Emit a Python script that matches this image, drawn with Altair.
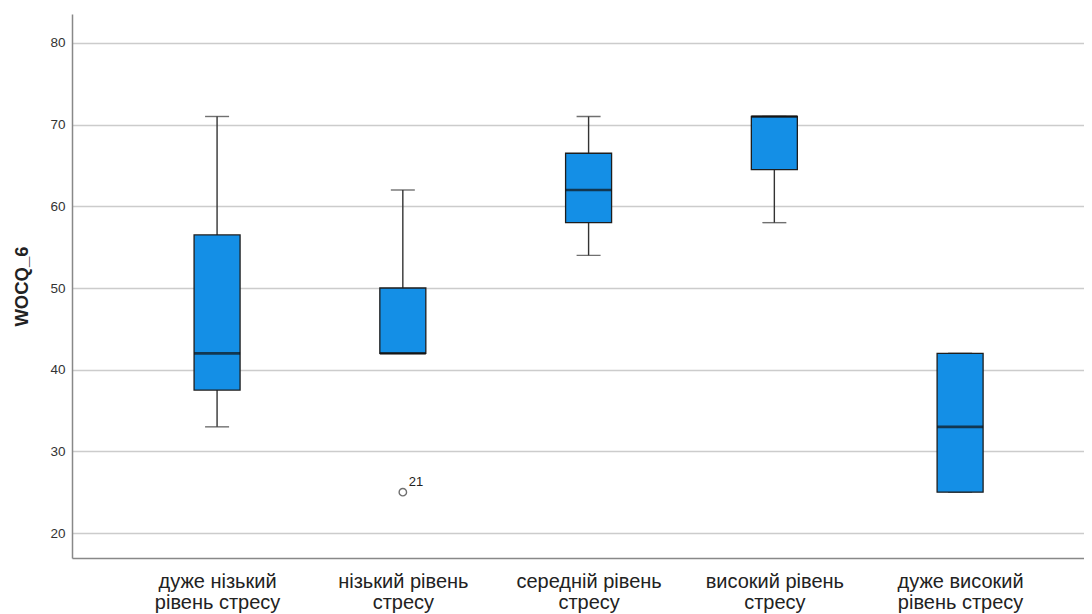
import altair as alt
import pandas as pd

categories = ["дуже нізький|рівень стресу", "нізький рівень|стресу", "середній рівень|стресу",
              "високий рівень|стресу", "дуже високий|рівень стресу"]
positions = [1, 2, 3, 4, 5]
whisker_low = [33, 42, 54, 58, 25]
q1 = [37.5, 42, 58, 64.5, 25]
median = [42, 42, 62, 71, 33]
q3 = [56.5, 50, 66.5, 71, 42]
whisker_high = [71, 62, 71, 71, 42]

outlier_pos = [2]
outlier_val = [25]
outlier_id = ["21"]

y_ticks = [20, 30, 40, 50, 60, 70, 80]

df = pd.DataFrame({"pos": positions, "cat": categories, "lo": whisker_low, "q1": q1,
                   "med": median, "q3": q3, "hi": whisker_high})
odf = pd.DataFrame({"pos": outlier_pos, "val": outlier_val, "id": outlier_id})

label_array = "[" + ",".join("'" + c + "'" for c in categories) + "]"

xscale = alt.Scale(domain=[0.219, 5.667], nice=False, zero=False, padding=0)
yscale = alt.Scale(domain=[16.94, 83.55], nice=False, zero=False, padding=0)

xaxis = alt.Axis(values=positions, title=None, grid=False, ticks=False, domainColor="#888888",
                 domainWidth=1.5, labelFont="Liberation Sans", labelFontSize=20, labelColor="#222222",
                 labelPadding=13, labelLineHeight=21, labelBaseline="top",
                 labelExpr="split(" + label_array + "[datum.value-1], '|')")
yaxis = alt.Axis(values=y_ticks, title="WOCQ_6", grid=True, gridColor="#cccccc", gridWidth=1.3,
                 ticks=False, domainColor="#888888", domainWidth=1.5, labelFont="Liberation Sans",
                 labelFontSize=13.5, labelColor="#333333", labelPadding=7,
                 titleFont="Liberation Sans", titleFontSize=18.5, titleFontWeight="bold",
                 titleColor="#222222", titlePadding=18)

base = alt.Chart(df)

whisk = base.mark_rule(color="#333333", strokeWidth=1.4).encode(
    x=alt.X("pos:Q", scale=xscale, axis=xaxis),
    y=alt.Y("lo:Q", scale=yscale, axis=yaxis),
    y2="hi:Q")

cap_lo = base.mark_tick(orient="horizontal", size=24, thickness=1.4, color="#333333").encode(
    x=alt.X("pos:Q", scale=xscale), y=alt.Y("lo:Q", scale=yscale))
cap_hi = base.mark_tick(orient="horizontal", size=24, thickness=1.4, color="#333333").encode(
    x=alt.X("pos:Q", scale=xscale), y=alt.Y("hi:Q", scale=yscale))

box = base.mark_bar(size=46, color="#148fe6", stroke="#1e1e1e", strokeWidth=1.3).encode(
    x=alt.X("pos:Q", scale=xscale), y=alt.Y("q1:Q", scale=yscale), y2="q3:Q")

med = base.mark_tick(orient="horizontal", size=46, thickness=2.6, color="#111111").encode(
    x=alt.X("pos:Q", scale=xscale), y=alt.Y("med:Q", scale=yscale))

outl = alt.Chart(odf).mark_point(shape="circle", size=55, filled=False, color="#333333",
                                  strokeWidth=1.4).encode(
    x=alt.X("pos:Q", scale=xscale), y=alt.Y("val:Q", scale=yscale))
outl_txt = alt.Chart(odf).mark_text(align="left", baseline="bottom", dx=6, dy=-3,
                                     font="Liberation Sans", fontSize=13, color="#222222").encode(
    x=alt.X("pos:Q", scale=xscale), y=alt.Y("val:Q", scale=yscale), text="id:N")

chart = alt.layer(whisk, cap_lo, cap_hi, box, med, outl, outl_txt).properties(
    width=1012, height=544,
    autosize=alt.AutoSizeParams(type="none"),
    padding={"left": 64, "top": 6, "right": 0, "bottom": 60},
    background="white",
).configure_view(strokeWidth=0)

chart.save("out.html", embed_options={"renderer": "svg", "actions": False})
